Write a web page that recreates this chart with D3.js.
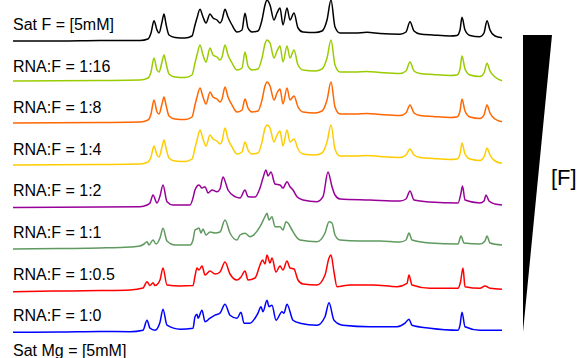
<!DOCTYPE html>
<html>
<head>
<meta charset="utf-8">
<script src="https://cdn.jsdelivr.net/npm/d3@7"></script>
<style>
  body { margin: 0; background: #fff; }
  svg { display: block; }
  text { font-family: "Liberation Sans", Arial, Helvetica, sans-serif; fill: #000; }
</style>
</head>
<body>
<script>
// Titration series, top (saturating fluoride) to bottom (no fluoride)
const labels = [
  "Sat F = [5mM]", "RNA:F = 1:16", "RNA:F = 1:8", "RNA:F = 1:4",
  "RNA:F = 1:2", "RNA:F = 1:1", "RNA:F = 1:0.5", "RNA:F = 1:0"
];
const footLabel = "Sat Mg = [5mM]";
const wedgeLabel = "[F]";
const colors = ["#000000", "#99cc00", "#ff6600", "#ffcc00", "#990099", "#5f995f", "#ff0000", "#0000ff"];

// Each spectrum: [point index, intensity above its own baseline]
const satF = [[0,0],[47,0],[87,0.5],[127,0.5],[135,2],[138,8],[141,20.3],[144,11],[146,8],[149,19],[151,27],[153,17],[156,6],[162,3.5],[172,3],[179,5],[182,16],[184,23],[187,31.7],[190,24],[193,18],[197,27],[200,23],[204,21],[207,18],[209,21],[212,31.7],[215,24],[219,16],[224,9],[229,11],[232,27.7],[235,13],[239,9],[245,10],[249,21],[252,36],[254,41],[257,36],[261,21],[264,28],[267,33],[270,16],[274,33],[277,21],[281,28],[285,13],[290,9],[302,8.5],[309,10],[314,21],[318,41],[322,14],[327,8],[342,8],[354,8.7],[367,7.5],[387,6.7],[393,9],[397,19.3],[401,10],[407,7],[420,6],[437,5],[444,5.5],[447,11],[449,23.7],[452,11],[457,5.5],[467,4.3],[471,8],[474,20.3],[477,11],[482,5],[489,3.3]];

const ratio1to16 = [[0,1.6],[87,2.1],[127,2.6],[135,4.6],[138,10.6],[141,24.6],[144,12.6],[146,10.6],[149,20.6],[151,27.6],[153,19.6],[156,8.6],[162,5.6],[172,5.1],[179,7.6],[182,19.6],[184,27.6],[187,37.6],[190,27.6],[193,20.6],[197,34.6],[200,27.6],[204,25.6],[207,22.6],[209,25.6],[212,37.6],[215,27.6],[219,19.6],[224,12.6],[229,14.6],[232,30.6],[235,16.6],[239,12.6],[245,13.6],[249,24.6],[252,38.6],[254,42.6],[257,39.6],[261,24.6],[264,31.6],[267,36.6],[270,20.6],[274,36.6],[277,24.6],[281,32.6],[285,17.6],[290,12.6],[302,11.6],[309,13.6],[314,24.6],[318,42.6],[322,17.6],[327,10.6],[342,10.6],[354,11.1],[367,10.1],[387,9.1],[393,11.6],[397,20.6],[401,11.6],[407,9.1],[420,8.1],[437,7.1],[444,7.6],[447,13.6],[449,26.6],[452,13.6],[457,7.6],[467,6.1],[471,9.6],[474,19.3],[477,11.6],[482,5.6],[489,1.9]];

const ratio1to8 = [[0,1.2],[87,1.7],[127,2.2],[135,4.2],[138,10.2],[141,24.2],[144,12.2],[146,10.2],[149,20.2],[151,27.2],[153,19.2],[156,8.2],[162,5.2],[172,4.7],[179,7.2],[182,19.2],[184,27.2],[187,36.2],[190,27.2],[193,20.2],[197,32.2],[200,27.2],[204,25.2],[207,22.2],[209,25.2],[212,37.2],[215,27.2],[219,19.2],[224,12.2],[229,14.2],[232,25.2],[235,16.2],[239,12.2],[245,13.2],[249,24.2],[252,38.2],[254,42.2],[257,38.2],[261,24.2],[264,31.2],[267,35.2],[270,20.2],[274,36.2],[277,24.2],[281,28.2],[285,17.2],[290,12.2],[302,11.2],[309,13.2],[314,24.2],[318,42.2],[322,17.2],[327,10.2],[342,10.2],[354,10.7],[367,9.7],[387,8.7],[393,11.2],[397,19.2],[401,11.2],[407,8.7],[420,7.7],[437,6.7],[444,7.2],[447,13.2],[449,25.2],[452,13.2],[457,7.2],[467,5.7],[471,9.2],[474,19.2],[477,11.2],[482,5.2],[489,2.5]];

const ratio1to4 = [[0,0.8],[87,1.3],[127,1.8],[135,3.8],[138,8.8],[141,19.8],[144,10.8],[146,8.8],[149,18.8],[151,25.8],[153,17.8],[156,7.8],[162,4.8],[172,4.3],[179,6.8],[182,17.8],[184,25.8],[187,35.8],[190,26.8],[193,19.8],[197,30.8],[200,26.8],[204,24.8],[207,21.8],[209,24.8],[212,37.8],[215,26.8],[219,18.8],[224,11.8],[229,13.8],[232,23.8],[235,15.8],[239,11.8],[245,12.8],[249,23.8],[252,37.8],[254,40.8],[257,37.8],[261,23.8],[264,30.8],[267,34.8],[270,19.8],[274,35.8],[277,23.8],[281,26.8],[285,16.8],[290,11.8],[302,10.8],[309,12.8],[314,23.8],[318,40.8],[322,16.8],[327,9.8],[342,9.8],[354,10.3],[367,9.3],[387,8.3],[393,10.8],[397,16.8],[401,10.8],[407,8.3],[420,7.3],[437,6.3],[444,6.8],[447,11.8],[449,22.8],[452,11.8],[457,6.8],[467,5.3],[471,8.8],[474,17.5],[477,10.8],[482,4.8],[489,2.5]];

const ratio1to2 = [[0,0],[87,0.4],[127,0.7],[134,2.4],[137,4.4],[140,12.4],[144,4.4],[147,11.4],[150,22.4],[154,5.7],[160,2.4],[177,2.4],[180,9.4],[182,17.4],[186,22.4],[189,19.4],[192,20.7],[195,14.4],[199,17.4],[204,15.7],[207,18.4],[210,30.4],[213,23.4],[215,17.4],[222,10.7],[227,9.4],[232,17.4],[235,10.7],[242,10.4],[247,19.4],[250,29.4],[253,37.4],[255,31.4],[258,35.4],[262,23.4],[267,22.4],[270,19.4],[274,25.7],[277,20.7],[280,17.4],[284,10.7],[290,7.4],[304,5.7],[310,10.7],[315,35.4],[319,20.7],[322,12.4],[327,8.4],[357,7.4],[387,6.4],[393,8.4],[397,16.4],[401,7.4],[417,5.4],[445,4.4],[448,14.4],[449.5,21.4],[452,7.4],[467,4.4],[471,6.4],[473,12.4],[476,6.4],[482,3.4],[489,2.4]];

const ratio1to1 = [[0,0],[47,0.5],[87,1],[117,2],[127,3],[131,5],[134,7.3],[136,4],[140,9],[143,5],[147,11],[150,20.7],[154,8],[162,4],[177,4],[180,9],[182,19],[184,20],[186,21],[188,16],[190,20],[193,14],[197,17],[202,16],[207,17],[212,29],[217,16],[224,9],[227,14],[232,15.7],[237,12.3],[247,22.3],[252,32.3],[254,35.7],[256,29],[259,32.3],[262,22.3],[267,22.3],[270,19],[273,27.3],[275,26],[279,19],[282,14],[287,9],[304,7.3],[312,16],[316,27.3],[319,26],[322,14],[327,9],[347,8],[367,8],[387,7],[393,9],[396,16],[399,9],[417,6],[445,5],[448,13],[451,6],[467,5],[472,8],[474,13],[477,6],[489,4]];

const ratio1to05 = [[0,-1.1],[47,-0.4],[87,0],[117,0.6],[130,2.6],[134,8.9],[137,5],[140,7.9],[142,5],[147,10.6],[150,22.6],[154,5.6],[167,4.6],[180,5],[182,14.6],[184,22.6],[186,20.6],[189,24.6],[192,15.6],[197,19.6],[202,16.6],[207,18.6],[212,28.6],[217,16.6],[224,10.6],[228,13.6],[232,19.6],[235,10.6],[242,12.6],[247,25.6],[249.5,30.6],[252,26.6],[254,35.6],[257,27.6],[259,32.6],[263,18.6],[267,24.6],[270,20.6],[274,29.6],[277,22.6],[281,21.6],[285,10.6],[290,6.6],[304,5.6],[312,15.6],[316,32.6],[318,35.6],[321,18.6],[324,3.9],[337,5.6],[360,5.6],[384,3.9],[394,7.3],[396,15.6],[399,5.6],[417,2.3],[445,2.3],[447.5,8.6],[450,22.6],[452,3.9],[467,2.3],[472,4.6],[477,2.3],[489,1.3]];

const ratio1to0 = [[0,0],[47,0.2],[87,0.7],[117,0.5],[130,2],[134,12],[137,4],[142,2],[147,10],[150,23],[154,7],[167,3],[180,4],[182,15.5],[184,18],[185,14],[189,22],[192,10.5],[197,14],[202,17],[207,19],[212,28],[217,17],[224,14],[228,20],[231,9],[237,9],[242,14],[245,19],[248,25.5],[250,20.5],[254,32],[256,25.5],[259,27],[263,12],[269,20.5],[271,19],[274,28],[280,12],[287,9],[304,7],[312,15.5],[316,29.5],[321,12],[330,7],[357,5.5],[384,5.5],[392,9],[396,13],[399,7],[417,4],[445,2],[447,7],[449,20],[452,5.5],[467,2],[489,2]];

const spectra = [satF, ratio1to16, ratio1to8, ratio1to4, ratio1to2, ratio1to1, ratio1to05, ratio1to0];

const width = 581, height = 358;
const svg = d3.select("body").append("svg")
  .attr("width", width).attr("height", height);

// Horizontal: spectral point index; vertical: stacked baselines plus intensity
const x = d3.scaleLinear().domain([0, 489]).range([13, 502]);
const baseline = d3.scaleLinear().domain([0, spectra.length - 1]).range([41, 332.2]);
const amp = d3.scaleLinear().domain([0, 40]).range([0, 40]);

const traces = svg.append("g").attr("fill", "none").attr("stroke-width", 1.5)
  .attr("stroke-linejoin", "round");

spectra.forEach((s, i) => {
  const line = d3.line()
    .x(d => x(d[0]))
    .y(d => baseline(i) - amp(d[1]))
    .curve(d3.curveMonotoneX);
  traces.append("path")
    .attr("d", line(s))
    .attr("stroke", colors[i]);
  svg.append("text")
    .attr("x", 13)
    .attr("y", baseline(i) - 11)
    .attr("font-size", 16)
    .text(labels[i]);
});

svg.append("text")
  .attr("x", 13)
  .attr("y", 356)
  .attr("font-size", 16)
  .text(footLabel);

// Concentration wedge: width grows with fluoride level from bottom to top
const wedgeY = d3.scaleLinear().domain([0, 1]).range([332, 35]);
const wedgeW = d3.scaleLinear().domain([0, 1]).range([0, 29]);
const wedgeX0 = 523;
const wedgePath = d3.line()([
  [wedgeX0, wedgeY(1)],
  [wedgeX0 + wedgeW(1), wedgeY(1)],
  [wedgeX0 + wedgeW(0), wedgeY(0)],
  [wedgeX0, wedgeY(0)]
]) + "Z";
svg.append("path").attr("d", wedgePath).attr("fill", "#000");

svg.append("text")
  .attr("x", 551)
  .attr("y", 184.5)
  .attr("font-size", 22)
  .text(wedgeLabel);
</script>
</body>
</html>
